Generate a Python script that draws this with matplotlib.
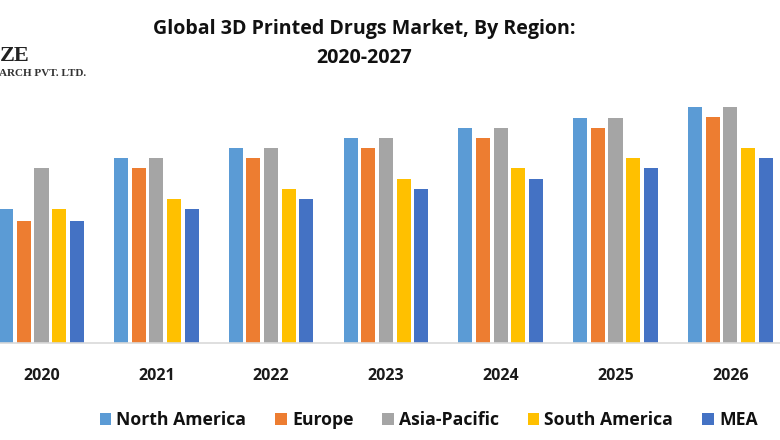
# Goal: Global 3D printed drugs market bars by region

import numpy as np
import matplotlib.pyplot as plt

years = ['2020', '2021', '2022', '2023', '2024', '2025', '2026']
north_america = [134, 185, 195, 205, 215, 225, 236]
europe = [122, 175, 185, 195, 205, 215, 226]
asia_pacific = [175, 185, 195, 205, 215, 225, 236]
south_america = [134, 144, 154, 164, 175, 185, 195]
mea = [122, 134, 144, 154, 164, 175, 185]

regions = ['North America', 'Europe', 'Asia-Pacific', 'South America', 'MEA']
colors = ['#5B9BD5', '#ED7D31', '#A5A5A5', '#FFC000', '#4472C4']

plt.rcParams['font.family'] = ['Open Sans', 'DejaVu Sans']

fig = plt.figure(figsize=(7.8, 4.4), dpi=100)
ax = fig.add_axes([0, 0, 1, 1])

# x axis is in groups, one group is 114.8 px wide
x = np.arange(len(years))
width = 0.122
pitch = 0.154

series = [north_america, europe, asia_pacific, south_america, mea]
for i in range(len(series)):
    ax.bar(x + (i - 2) * pitch, series[i], width, color=colors[i], label=regions[i])

# set_position resets the ticks, so it has to come before the tick labels
for side in ['top', 'left', 'right']:
    ax.spines[side].set_visible(False)
ax.spines['bottom'].set_position(('data', 0))
ax.spines['bottom'].set_color('#d9d9d9')
ax.spines['bottom'].set_linewidth(1.2)

ax.set_xlim(-41.5 / 114.8, (780 - 41.5) / 114.8)
ax.set_ylim(-97, 343)
ax.set_yticks([])
ax.set_xticks(x)
ax.set_xticklabels(years, fontsize=11.5, fontweight='bold', color='#1a1a1a')
ax.tick_params(axis='x', length=0, pad=18)

fig.text(0.467, 0.934, 'Global 3D Printed Drugs Market, By Region:', ha='center', va='center',
         fontsize=14.1, fontweight='bold', color='#111111')
fig.text(0.467, 0.868, '2020-2027', ha='center', va='center',
         fontsize=14.1, fontweight='bold', color='#111111')

# logo, cut off by the left edge in the original
fig.text(0.0, 0.873, 'ZE', ha='left', va='center', fontsize=16, fontweight='bold',
         family='Liberation Serif', color='#222222')
fig.text(-0.001, 0.833, 'ARCH PVT. LTD.', ha='left', va='center', fontsize=8, fontweight='bold',
         family='Liberation Serif', color='#333333')

ax.legend(loc='center', bbox_to_anchor=(0.5495, 0.045), ncol=5, frameon=False,
          prop={'size': 12.7, 'weight': 'bold'}, labelcolor='#111111',
          handlelength=0.65, handleheight=0.65, handletextpad=0.3, columnspacing=1.63,
          borderpad=0, borderaxespad=0)

plt.savefig('out.png', dpi=100)
